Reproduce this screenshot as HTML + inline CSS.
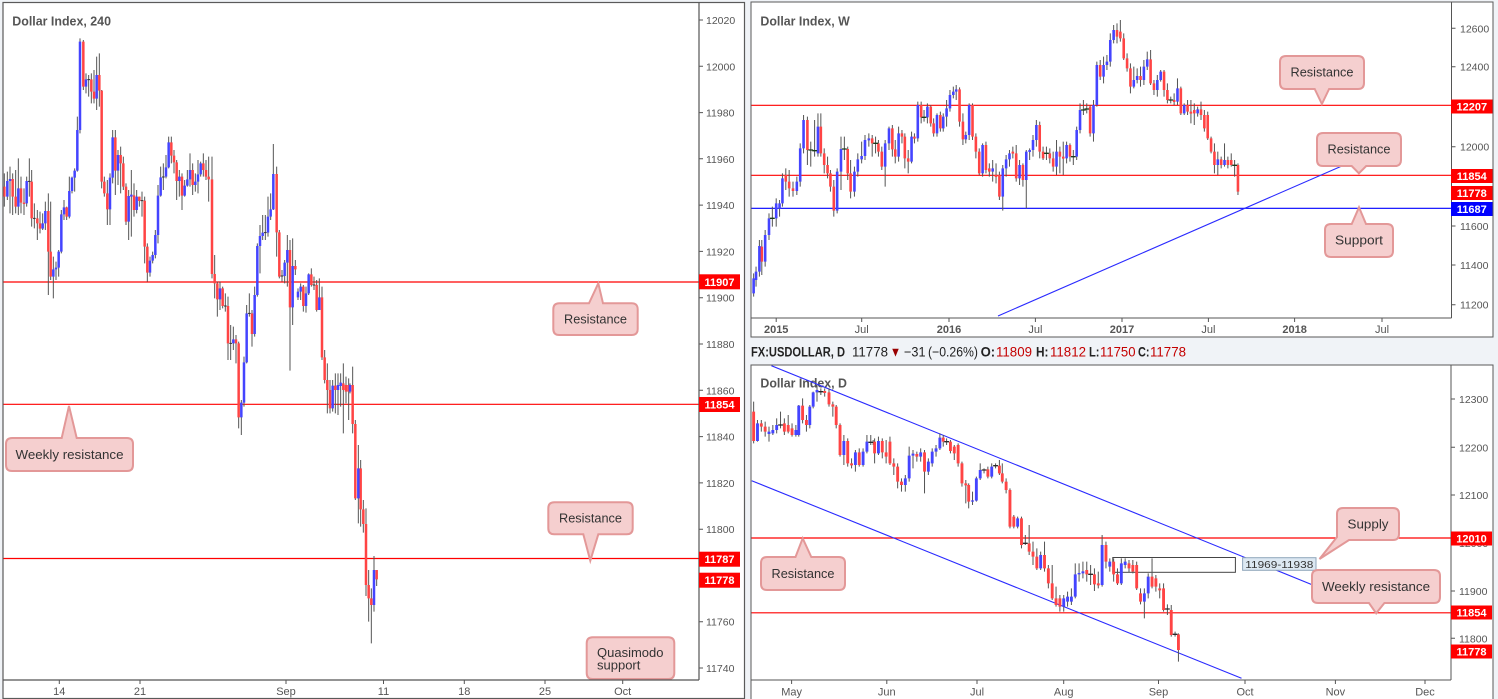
<!DOCTYPE html>
<html><head><meta charset="utf-8"><style>html,body{margin:0;padding:0;background:#f0f3f7;}svg{display:block;}</style></head>
<body>
<svg xmlns="http://www.w3.org/2000/svg" width="1498" height="699" viewBox="0 0 1498 699" font-family="'Liberation Sans', Arial, sans-serif">
<defs>
<clipPath id="cL"><rect x="3.5" y="2.5" width="695.5" height="677.5"/></clipPath>
<clipPath id="cW"><rect x="751.5" y="2.5" width="700" height="315.5"/></clipPath>
<clipPath id="cD"><rect x="751.5" y="365.5" width="699.5" height="314.5"/></clipPath>
</defs>
<rect width="1498" height="699" fill="#f0f3f7"/>
<!-- panels -->
<rect x="3" y="2.5" width="741.5" height="696" fill="#fff" stroke="#5a5a5a" stroke-width="1.2"/>
<rect x="751" y="2" width="742" height="335" fill="#fff" stroke="#5a5a5a" stroke-width="1"/>
<rect x="751" y="365" width="742" height="336" fill="#fff" stroke="#5a5a5a" stroke-width="1"/>

<!-- ================= LEFT PANEL ================= -->
<text x="12.3" y="25.5" font-size="12.5" font-weight="bold" fill="#555" textLength="98.7" lengthAdjust="spacingAndGlyphs">Dollar Index, 240</text>
<g clip-path="url(#cL)">
<path d="M3 282H699" stroke="#ff0000" stroke-width="1.2"/>
<path d="M3 404.3H699" stroke="#ff0000" stroke-width="1.2"/>
<path d="M3 558.5H699" stroke="#ff0000" stroke-width="1.2"/>
<g transform="translate(0,130) scale(0.33333)" fill="none" stroke-linecap="butt">
<path stroke="#555" stroke-width="3" d="M13 130V230M22 125V210M30 110V250M38 130V255M47 120V250M55 85V255M63 140V250M72 175V255M80 140V230M88 85V200M95 120V290M103 220V295M112 240V330M120 245V310M128 250V300M136 215V300M145 190V495M152 215V450M160 380V505M168 395V450M176 360V440M184 240V370M192 210V270M200 230V270M208 140V265M216 140V190M224 115V185M232 -40V125M240 -275V10M250 -270V-120M258 -170V-110M266 -165V-100M274 -170V-80M282 -180V-80M290 -220V-60M298 -230V-70M305 -120V175M313 140V200M322 150V285M330 130V285M338 0V160M346 0V195M354 60V165M362 50V190M370 80V180M378 160V285M386 180V330M394 120V320M402 160V260M410 180V250M418 200V230M426 185V260M434 200V400M442 340V455M450 380V440M458 365V400M466 300V385M474 165V340M482 110V200M490 100V180M498 75V145M506 20V115M514 20V100M522 60V130M530 90V210M538 120V200M546 130V240M554 150V200M562 120V170M570 70V170M578 100V195M586 130V185M594 90V190M602 95V140M610 70V140M618 90V150M626 80V215M636 80V445M644 375V505M652 455V560M660 455V540M668 470V535M676 490V545M684 500V690M692 585V690M700 590V660M708 615V700M716 635V895M724 810V915M732 680V830M740 525V700M748 490V560M756 540V650M764 470V620M772 340V500M780 285V430M788 255V330M796 255V330M804 200V320M812 190V270M820 42V240M830 110V380M838 300V445M846 420V455M854 390V460M862 315V470M870 330V722M878 325V585M886 390V435M894 475V510M902 460V510M910 465V545M918 470V548M926 430V495M934 415V470M942 440V480M950 450V545M958 445V540M966 470V690M974 660V760M982 700V850M990 750V850M998 750V845M1006 730V850M1014 730V855M1022 730V830M1030 700V910M1038 740V820M1046 745V870M1050 760V790M1058 710V910M1066 870V1110M1075 945V1180M1082 990V1190M1090 1110V1208M1098 1135V1398M1106 1320V1475M1114 1375V1540M1122 1278V1445M1130 1320V1368"/>
<path stroke="#ff4444" stroke-width="7.5" d="M13 170V200M38 147V200M47 200V230M63 175V218M72 218V222M95 155V265M112 265V280M120 280V296M145 243V365M152 365V440M200 232V260M250 -265V-130M274 -152V-115M282 -115V-94M298 -165V-118M305 -118V155M313 155V190M322 190V238M346 22V122M362 75V100M370 100V170M378 170V275M402 196V240M418 200V213M434 212V350M442 350V428M514 37V77M522 77V97M530 97V153M546 140V197M578 120V165M610 100V120M618 120V140M626 140V148M636 148V432M644 432V460M652 460V508M668 475V528M684 528V640M708 628V640M716 640V862M756 550V612M830 132V307M838 307V440M870 360V532M886 408V418M910 470V528M934 433V465M950 465V540M966 502V682M974 682V750M982 750V780M990 780V835M1006 767V780M1030 760V780M1038 765V785M1046 765V785M1058 765V882M1066 882V1105M1082 1015V1138M1090 1138V1182M1098 1182V1365M1106 1365V1405M1114 1405V1425M1130 1320V1348"/>
<path stroke="#4444ff" stroke-width="7.5" d="M22 200V153M30 153V147M55 230V175M80 220V153M128 296V280M136 280V243M160 440V418M168 418V413M176 413V365M184 365V253M192 253V232M208 260V183M216 183V143M224 143V122M232 122V0M240 0V-265M258 -130V-152M290 -94V-165M330 238V143M338 143V22M354 122V75M386 275V198M394 200V194M410 240V200M450 428V392M458 392V375M466 375V315M474 315V197M482 197V142M498 140V112M506 112V37M538 153V140M554 197V167M562 167V148M570 148V120M586 165V155M594 155V133M602 133V100M660 508V475M700 640V628M724 862V818M732 818V697M740 697V550M764 612V495M772 495V348M780 348V318M788 318V308M804 308V260M812 260V238M820 238V132M854 438V398M862 398V360M878 532V408M894 502V485M902 485V470M918 528V490M926 490V433M958 540V502M998 835V767M1014 780V765M1022 768V758M1050 785V765M1075 1105V1015M1122 1425V1320"/>
<path stroke="#333" stroke-width="3" d="M84 154H92M99 265H107M262 -151H270M422 212H430M486 141H494M672 528H680M688 640H696M744 550H752M792 308H800M842 438H850M938 465H946"/>
</g>
<path d="M592.7 637.3L668.3 637.3Q674.3 637.3 674.3 643.3L674.3 673Q674.3 679 668.3 679L592.7 679Q586.7 679 586.7 673L586.7 643.3Q586.7 637.3 592.7 637.3Z" fill="#f5cfcf" stroke="#e39898" stroke-width="2"/>
<text x="597" y="657" font-size="13" fill="#333">Quasimodo</text>
<text x="597" y="669.5" font-size="13" fill="#333">support</text>
</g>
<!-- left callouts -->
<path d="M559.3 303.3L589 303.3L598.3 283.3L603 303.3L631.7 303.3Q637.7 303.3 637.7 309.3L637.7 329Q637.7 335 631.7 335L559.3 335Q553.3 335 553.3 329L553.3 309.3Q553.3 303.3 559.3 303.3Z" fill="#f5cfcf" stroke="#e39898" stroke-width="2"/>
<text x="595.5" y="323.5" font-size="13" fill="#333" text-anchor="middle" textLength="63" lengthAdjust="spacingAndGlyphs">Resistance</text>
<path d="M12 438L61.7 438L69 406L76.7 438L127 438Q133 438 133 444L133 465Q133 471 127 471L12 471Q6 471 6 465L6 444Q6 438 12 438Z" fill="#f5cfcf" stroke="#e39898" stroke-width="2"/>
<text x="69.5" y="459" font-size="13" fill="#333" text-anchor="middle" textLength="108" lengthAdjust="spacingAndGlyphs">Weekly resistance</text>
<path d="M554.3 502.3L626.7 502.3Q632.7 502.3 632.7 508.3L632.7 528.3Q632.7 534.3 626.7 534.3L598.3 534.3L590.3 560.7L583.3 534.3L554.3 534.3Q548.3 534.3 548.3 528.3L548.3 508.3Q548.3 502.3 554.3 502.3Z" fill="#f5cfcf" stroke="#e39898" stroke-width="2"/>
<text x="590.5" y="522.5" font-size="13" fill="#333" text-anchor="middle" textLength="63" lengthAdjust="spacingAndGlyphs">Resistance</text>
<!-- left axes -->
<path d="M699 2.5V680M3 680H699" stroke="#555" stroke-width="1.2" fill="none"/>
<path d="M699 20h4M699 66.3h4M699 112.6h4M699 158.8h4M699 205.1h4M699 251.4h4M699 297.7h4M699 344h4M699 390.3h4M699 436.6h4M699 482.9h4M699 529.2h4M699 621.7h4M699 668h4M59.3 680v4M140 680v4M286 680v4M383.5 680v4M464.3 680v4M545 680v4M622.7 680v4" stroke="#555" stroke-width="1"/>
<g font-size="10.5" fill="#555">
<text x="706" y="24">12020</text><text x="706" y="70.3">12000</text><text x="706" y="116.6">11980</text><text x="706" y="162.8">11960</text><text x="706" y="209.1">11940</text><text x="706" y="255.4">11920</text><text x="706" y="301.7">11900</text><text x="706" y="348">11880</text><text x="706" y="394.3">11860</text><text x="706" y="440.6">11840</text><text x="706" y="486.9">11820</text><text x="706" y="533.2">11800</text><text x="706" y="625.7">11760</text><text x="706" y="672">11740</text>
</g>
<g font-size="11" fill="#555" text-anchor="middle">
<text x="59.3" y="695">14</text><text x="140" y="695">21</text><text x="286" y="695">Sep</text><text x="383.5" y="695">11</text><text x="464.3" y="695">18</text><text x="545" y="695">25</text><text x="622.7" y="695">Oct</text>
</g>
<g font-size="11" font-weight="bold" fill="#fff" text-anchor="middle">
<rect x="699" y="274.3" width="41" height="15" fill="#ff0000"/><text x="719.5" y="285.8">11907</text>
<rect x="699" y="397" width="41" height="15" fill="#ff0000"/><text x="719.5" y="408.5">11854</text>
<rect x="699" y="551.7" width="41" height="15" fill="#ff0000"/><text x="719.5" y="563.2">11787</text>
<rect x="699" y="572.7" width="41" height="15" fill="#ff0000"/><text x="719.5" y="584.2">11778</text>
</g>

<!-- ================= WEEKLY PANEL ================= -->
<text x="760.4" y="25.5" font-size="12.5" font-weight="bold" fill="#555" textLength="89.4" lengthAdjust="spacingAndGlyphs">Dollar Index, W</text>
<g clip-path="url(#cW)">
<path d="M751 105.3H1452" stroke="#ff0000" stroke-width="1.2"/>
<path d="M751 175.3H1452" stroke="#ff0000" stroke-width="1.2"/>
<path d="M751 208.3H1452" stroke="#0000ff" stroke-width="1.2"/>
<path d="M998 316L1358.5 158.7" stroke="#2a2aff" stroke-width="1.1"/>
<g transform="translate(745,0) scale(0.48,0.33333)" fill="none">
<path stroke="#555" stroke-width="2.1" d="M18 820V890M23 800V860M30 720V830M35 720V825M42 690V800M50 640V720M57 620V680M65 595V680M72 600V650M78 520V620M85 505V570M92 510V590M100 545V590M108 530V585M115 430V560M122 345V460M130 350V495M137 425V500M145 360V470M152 340V470M158 340V470M165 445V520M172 470V535M178 510V575M185 540V650M192 505V640M200 410V570M207 410V480M214 440V540M220 480V595M228 500V590M235 460V530M243 425V490M250 405V480M258 400V440M265 405V470M272 410V460M278 420V470M285 440V510M292 420V560M300 380V450M307 375V470M313 420V490M320 380V485M327 390V430M333 400V505M340 450V520M347 395V490M353 400V430M360 305V425M367 305V370M373 330V365M380 310V370M387 315V380M393 355V410M400 340V410M407 335V395M413 340V395M420 300V380M427 270V335M434 260V295M440 255V300M447 262V380M454 340V435M460 395V430M467 310V420M474 310V420M481 400V475M488 445V525M495 430V530M502 425V520M509 490V530M516 480V545M523 490V550M530 515V600M537 495V632M544 465V530M551 450V500M558 440V475M565 435V545M572 480V555M579 490V560M586 450V625M593 445V480M600 405V470M607 360V440M614 365V475M621 440V480M628 440V480M635 445V490M642 455V515M649 420V525M656 440V520M663 425V525M670 425V490M677 430V485M684 450V495M691 380V480M698 310V400M705 300V345M712 310V340M719 315V410M726 300V425M733 185V320M740 180V240M747 170V250M754 165V210M761 100V200M768 75V130M775 70V130M782 60V125M789 100V180M796 160V215M803 190V280M810 200V265M817 205V250M824 200V260M831 180V255M838 155V210M845 150V255M852 240V285M859 225V290M866 210V245M873 210V290M880 250V310M887 290V310M894 280V315M901 235V315M908 260V345M915 310V345M922 300V345M929 300V370M936 310V375M943 320V350M950 305V360M957 330V395M964 335V420M971 410V460M978 430V520M985 455V525M992 470V505M999 430V500M1006 470V505M1013 460V500M1020 480V530M1027 490V585"/>
<path stroke="#ff4444" stroke-width="5.4" d="M35 740V785M85 525V545M92 545V565M100 565V573M130 360V450M158 380V460M165 460V495M172 495V520M178 520V560M185 560V632M214 447V520M220 520V575M265 415V430M278 430V455M285 455V500M307 385V448M313 448V470M327 400V410M333 410V475M340 475V485M353 410V416M367 315V352M387 320V370M393 370V400M407 345V385M447 268V365M454 365V418M474 315V410M481 410V455M488 455V520M502 435V510M509 505V515M523 525V531M530 525V590M558 455V461M565 460V535M579 495V540M614 375V455M621 455V475M635 460V475M642 475V500M656 455V470M663 470V476M677 435V470M719 320V400M740 195V230M775 90V110M782 95V115M789 115V175M796 175V205M803 205V260M824 228V240M845 178V250M852 250V270M873 215V270M880 270V300M894 300V306M908 265V340M922 315V335M929 335V341M936 330V340M950 328V345M957 345V385M964 345V415M971 415V455M978 455V495M992 478V495M1006 480V495M1013 480V495M1027 495V575"/>
<path stroke="#4444ff" stroke-width="5.4" d="M18 880V835M23 840V815M30 815V738M42 785V705M50 705V655M65 655V610M72 625V610M78 610V535M108 573V545M115 545V445M122 445V360M152 460V380M192 632V515M200 515V447M228 575V515M235 515V478M243 478V468M250 468V420M258 421V415M292 500V430M300 430V385M320 470V400M347 485V410M360 415V315M380 352V320M400 400V345M413 385V350M420 350V325M427 325V285M434 285V275M440 275V268M460 418V405M467 405V315M495 520V435M516 515V505M537 590V505M544 505V478M551 478V460M572 535V495M586 540V455M593 456V450M600 450V420M607 420V375M649 500V455M670 475V435M691 470V390M698 390V330M726 400V315M733 315V195M747 230V195M754 195V185M761 185V120M768 120V90M810 260V240M817 240V228M831 240V200M838 200V178M859 270V240M866 240V215M901 305V265M915 340V315M943 340V328M985 495V478M999 495V480"/>
<path stroke="#1a3a1a" stroke-width="4" d="M52 655H62M132 450H142M140 452H150M202 447H212M267 430H277M368 352H378M623 460H633M679 470H689M700 330H710M707 327H717M882 300H892M1015 496H1025"/>
</g>
</g>
<path d="M1286 56L1358 56Q1364 56 1364 62L1364 83Q1364 89 1358 89L1329.1 89L1321.9 104L1314.7 89L1286 89Q1280 89 1280 83L1280 62Q1280 56 1286 56Z" fill="#f5cfcf" stroke="#e39898" stroke-width="2"/>
<text x="1322" y="76.5" font-size="13" fill="#333" text-anchor="middle" textLength="63" lengthAdjust="spacingAndGlyphs">Resistance</text>
<path d="M1323 133L1395 133Q1401 133 1401 139L1401 160Q1401 166 1395 166L1366.2 166L1358.9 173.3L1351.7 166L1323 166Q1317 166 1317 160L1317 139Q1317 133 1323 133Z" fill="#f5cfcf" stroke="#e39898" stroke-width="2"/>
<text x="1359" y="153.5" font-size="13" fill="#333" text-anchor="middle" textLength="63" lengthAdjust="spacingAndGlyphs">Resistance</text>
<path d="M1331 224L1351.7 224L1359 207.3L1366 224L1387 224Q1393 224 1393 230L1393 251Q1393 257 1387 257L1331 257Q1325 257 1325 251L1325 230Q1325 224 1331 224Z" fill="#f5cfcf" stroke="#e39898" stroke-width="2"/>
<text x="1359" y="244.5" font-size="13" fill="#333" text-anchor="middle" textLength="48" lengthAdjust="spacingAndGlyphs">Support</text>
<path d="M1451.5 2V318M751 318H1451.5" stroke="#555" stroke-width="1" fill="none"/>
<path d="M1451.5 28.3h4M1451.5 66.7h4M1451.5 146.7h4M1451.5 226h4M1451.5 265h4M1451.5 304.7h4M776.2 318v4M861.7 318v4M949 318v4M1035.4 318v4M1122 318v4M1208.4 318v4M1294.6 318v4M1382 318v4" stroke="#555" stroke-width="1"/>
<g font-size="10.5" fill="#555">
<text x="1460" y="32.3">12600</text><text x="1460" y="70.7">12400</text><text x="1460" y="150.7">12000</text><text x="1460" y="230">11600</text><text x="1460" y="269">11400</text><text x="1460" y="308.7">11200</text>
</g>
<g font-size="11" fill="#555" text-anchor="middle">
<text x="776.2" y="333" font-weight="bold">2015</text><text x="861.7" y="333">Jul</text><text x="949" y="333" font-weight="bold">2016</text><text x="1035.4" y="333">Jul</text><text x="1122" y="333" font-weight="bold">2017</text><text x="1208.4" y="333">Jul</text><text x="1294.6" y="333" font-weight="bold">2018</text><text x="1382" y="333">Jul</text>
</g>
<g font-size="11" font-weight="bold" fill="#fff" text-anchor="middle">
<rect x="1451" y="99.5" width="41.5" height="14" fill="#ff0000"/><text x="1471.8" y="110.5">12207</text>
<rect x="1451" y="169" width="41.5" height="14" fill="#ff0000"/><text x="1471.8" y="180">11854</text>
<rect x="1451" y="186" width="41.5" height="14" fill="#ff0000"/><text x="1471.8" y="197">11778</text>
<rect x="1451" y="202" width="41.5" height="14" fill="#0000ff"/><text x="1471.8" y="213">11687</text>
</g>

<!-- ================= HEADER ================= -->
<g font-size="13.5">
<text x="751" y="356.5" font-weight="bold" fill="#222" textLength="94" lengthAdjust="spacingAndGlyphs">FX:USDOLLAR, D</text>
<text x="852" y="356.5" fill="#222" textLength="36" lengthAdjust="spacingAndGlyphs">11778</text>
<text x="890" y="356.5" fill="#990000" textLength="11" lengthAdjust="spacingAndGlyphs">▼</text>
<text x="904" y="356.5" fill="#222" textLength="21.5" lengthAdjust="spacingAndGlyphs">−31</text>
<text x="928" y="356.5" fill="#222" textLength="50" lengthAdjust="spacingAndGlyphs">(−0.26%)</text>
<text x="980.6" y="356.5" font-weight="bold" fill="#222" textLength="14.5" lengthAdjust="spacingAndGlyphs">O:</text>
<text x="996" y="356.5" fill="#c40000" textLength="36" lengthAdjust="spacingAndGlyphs">11809</text>
<text x="1036" y="356.5" font-weight="bold" fill="#222" textLength="12.5" lengthAdjust="spacingAndGlyphs">H:</text>
<text x="1050" y="356.5" fill="#c40000" textLength="36" lengthAdjust="spacingAndGlyphs">11812</text>
<text x="1089" y="356.5" font-weight="bold" fill="#222" textLength="10.5" lengthAdjust="spacingAndGlyphs">L:</text>
<text x="1100" y="356.5" fill="#c40000" textLength="35.5" lengthAdjust="spacingAndGlyphs">11750</text>
<text x="1138" y="356.5" font-weight="bold" fill="#222" textLength="11.5" lengthAdjust="spacingAndGlyphs">C:</text>
<text x="1150" y="356.5" fill="#c40000" textLength="36" lengthAdjust="spacingAndGlyphs">11778</text>
</g>

<!-- ================= DAILY PANEL ================= -->
<text x="760.4" y="387.5" font-size="12.5" font-weight="bold" fill="#555" textLength="86.6" lengthAdjust="spacingAndGlyphs">Dollar Index, D</text>
<g clip-path="url(#cD)">
<path d="M751 538H1451" stroke="#ff0000" stroke-width="1.2"/>
<path d="M751 612.8H1451" stroke="#ff0000" stroke-width="1.2"/>
<path d="M771.4 365.7L1314.6 585.7" stroke="#2a2aff" stroke-width="1.1"/>
<path d="M751.7 480.7L1241.5 678.3" stroke="#2a2aff" stroke-width="1.1"/>
<rect x="1112.8" y="557.5" width="122.6" height="14.8" fill="none" stroke="#444" stroke-width="1"/>
<g transform="translate(745,335) scale(0.48,0.33333)" fill="none">
<path stroke="#555" stroke-width="2.1" d="M18 200V325M26 255V320M34 255V290M42 260V305M50 275V320M58 270V300M66 250V295M74 230V280M82 250V300M90 240V295M98 265V305M106 270V305M112 210V305M120 190V265M128 240V290M135 210V280M142 170V220M150 150V200M158 160V180M166 160V185M175 160V215M183 200V245M190 210V280M198 265V365M206 300V390M214 310V395M222 370V400M230 345V410M238 340V395M246 340V395M254 300V355M262 300V330M267 315V330M270 310V385M278 305V360M286 310V370M294 315V385M302 305V390M310 370V420M318 385V460M326 430V470M334 420V470M342 335V440M350 345V400M358 350V380M366 340V380M374 345V475M382 370V420M390 340V395M398 330V365M406 295V345M413 300V335M420 310V330M428 315V355M436 330V375M444 325V395M452 380V455M460 435V505M466 445V520M474 470V510M482 425V500M490 385V435M498 400V415M506 395V430M514 385V430M522 385V400M530 375V420M536 385V445M544 430V475M552 460V580M560 540V580M568 545V580M576 545V640M584 600V630M592 570V660M600 620V690M608 640V705M616 650V705M624 620V710M632 690V760M640 690V795M648 755V815M656 780V830M664 780V830M672 770V815M680 760V810M688 685V790M696 685V740M704 680V730M712 680V740M720 690V750M728 700V768M736 710V760M744 600V755M752 620V700M760 670V710M768 670V740M776 700V750M784 670V750M792 670V700M800 675V712M808 675V715M816 680V765M824 760V808M832 760V850M840 715V790M848 670V760M856 720V770M864 745V790M872 745V830M880 808V840M888 810V905M896 890V905M903 895V980"/>
<path stroke="#ff4444" stroke-width="6" d="M18 230V318M34 265V275M42 275V290M82 265V290M90 270V290M98 280V300M120 212V255M128 255V270M166 168V174M175 172V208M183 208V215M190 215V270M198 270V360M214 318V385M222 385V391M238 352V390M270 320V355M286 318V352M294 352V365M302 320V385M310 385V395M318 395V440M326 440V450M358 357V365M374 352V410M413 308V320M428 320V348M436 335V355M444 330V385M452 385V445M460 445V451M466 450V500M506 403V425M530 392V415M536 415V440M544 440V465M552 465V575M560 545V575M576 550V630M592 625V650M600 650V665M608 665V700M624 660V700M632 700V745M640 745V790M648 790V810M656 790V815M712 705V718M728 718V748M736 745V751M752 630V680M768 680V718M776 718V745M800 685V700M808 690V710M816 690V760M824 775V800M848 725V755M856 730V755M864 760V766M872 760V825M888 825V900M903 898V945"/>
<path stroke="#4444ff" stroke-width="6" d="M26 318V265M50 297V290M58 295V285M66 285V270M106 300V285M112 300V212M135 270V215M142 215V172M150 172V165M206 360V318M230 390V352M246 390V350M254 350V320M278 355V318M334 450V430M342 430V362M350 362V356M366 365V352M382 410V380M390 385V350M398 350V340M406 340V308M474 500V496M482 497V430M490 430V405M514 425V395M568 575V550M616 700V660M664 815V790M672 800V785M680 800V785M688 785V718M696 718V714M704 715V709M744 750V630M760 695V680M784 745V685M792 690V680M832 800V775M840 775V725"/>
<path stroke="#2a2a2a" stroke-width="4" d="M69 270H79M153 170H163M257 322H267M415 320H425M493 405H503M517 392H527M579 625H589M715 718H725M875 822H885M891 898H901"/>
</g>
</g>
<rect x="1242.6" y="557.7" width="73.4" height="12.6" fill="#dce8f2" stroke="#8fa6bb" stroke-width="1"/>
<text x="1279.3" y="568" font-size="10.5" fill="#333" text-anchor="middle" textLength="68" lengthAdjust="spacingAndGlyphs">11969-11938</text>
<path d="M1343 508L1393 508Q1399 508 1399 514L1399 534Q1399 540 1393 540L1349 540L1319.5 559L1337 537L1337 514Q1337 508 1343 508Z" fill="#f5cfcf" stroke="#e39898" stroke-width="2"/>
<text x="1368" y="528.5" font-size="13" fill="#333" text-anchor="middle" textLength="41" lengthAdjust="spacingAndGlyphs">Supply</text>
<path d="M1318 570L1434 570Q1440 570 1440 576L1440 597Q1440 603 1434 603L1384.4 603L1376.2 613.3L1369 603L1318 603Q1312 603 1312 597L1312 576Q1312 570 1318 570Z" fill="#f5cfcf" stroke="#e39898" stroke-width="2"/>
<text x="1376" y="591" font-size="13" fill="#333" text-anchor="middle" textLength="108" lengthAdjust="spacingAndGlyphs">Weekly resistance</text>
<path d="M767 557L795.5 557L802.7 538.3L811.3 557L839 557Q845 557 845 563L845 584Q845 590 839 590L767 590Q761 590 761 584L761 563Q761 557 767 557Z" fill="#f5cfcf" stroke="#e39898" stroke-width="2"/>
<text x="803" y="578" font-size="13" fill="#333" text-anchor="middle" textLength="63" lengthAdjust="spacingAndGlyphs">Resistance</text>
<path d="M1451 365V680M751 680H1451" stroke="#555" stroke-width="1" fill="none"/>
<path d="M1451 399h4M1451 447.3h4M1451 495h4M1451 591h4M1451 638.3h4M791.6 680v4M886.8 680v4M977 680v4M1063.7 680v4M1158.5 680v4M1245 680v4M1335.4 680v4M1425 680v4" stroke="#555" stroke-width="1"/>
<g font-size="10.5" fill="#555">
<text x="1459" y="403">12300</text><text x="1459" y="451.3">12200</text><text x="1459" y="499">12100</text><text x="1459" y="547">12000</text><text x="1459" y="595">11900</text><text x="1459" y="642.3">11800</text>
</g>
<g font-size="11" fill="#555" text-anchor="middle">
<text x="791.6" y="695.5">May</text><text x="886.8" y="695.5">Jun</text><text x="977" y="695.5">Jul</text><text x="1063.7" y="695.5">Aug</text><text x="1158.5" y="695.5">Sep</text><text x="1245" y="695.5">Oct</text><text x="1335.4" y="695.5">Nov</text><text x="1425" y="695.5">Dec</text>
</g>
<g font-size="11" font-weight="bold" fill="#fff" text-anchor="middle">
<rect x="1451" y="531.5" width="41" height="14" fill="#ff0000"/><text x="1471.5" y="542.5">12010</text>
<rect x="1451" y="605.5" width="41" height="14" fill="#ff0000"/><text x="1471.5" y="616.5">11854</text>
<rect x="1451" y="644.5" width="41" height="14" fill="#ff0000"/><text x="1471.5" y="655.5">11778</text>
</g>
</svg>
</body></html>
